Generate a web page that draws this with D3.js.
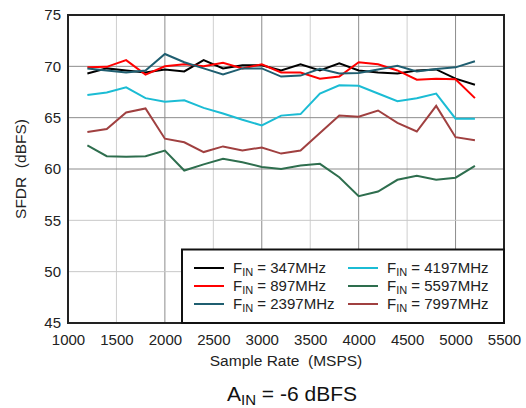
<!DOCTYPE html>
<html><head><meta charset="utf-8">
<script src="https://cdn.jsdelivr.net/npm/d3@7"></script>
<style>
html,body{margin:0;padding:0;background:#fff;}
svg{display:block;font-family:"Liberation Sans",Arial,sans-serif;}
</style></head>
<body><svg id="c" width="526" height="408"></svg>
<script>
const sampleRates = [1200,1400,1600,1800,2000,2200,2400,2600,2800,3000,3200,3400,3600,3800,4000,4200,4400,4600,4800,5000,5200];
const f347  = [69.3,69.8,69.6,69.4,69.7,69.5,70.6,69.8,70.1,70.1,69.6,70.2,69.6,70.3,69.6,69.4,69.3,69.6,69.7,68.8,68.2];
const f897  = [69.9,69.95,70.6,69.2,70.0,70.2,70.0,70.35,69.8,70.2,69.4,69.4,68.8,69.0,70.4,70.2,69.6,68.7,68.8,68.75,66.9];
const f2397 = [69.8,69.6,69.4,69.6,71.2,70.4,69.8,69.2,69.8,69.8,69.0,69.1,69.75,69.3,69.35,69.7,70.05,69.5,69.75,69.9,70.5];
const f4197 = [67.2,67.45,67.95,66.9,66.55,66.7,65.95,65.4,64.8,64.25,65.2,65.35,67.35,68.15,68.1,67.35,66.6,66.9,67.35,64.9,64.9];
const f5597 = [62.3,61.25,61.2,61.25,61.8,59.85,60.45,61.0,60.65,60.2,60.0,60.35,60.5,59.2,57.35,57.8,58.95,59.35,58.95,59.15,60.3];
const f7997 = [63.6,63.9,65.5,65.9,62.95,62.6,61.65,62.2,61.8,62.1,61.5,61.8,63.5,65.2,65.1,65.7,64.5,63.65,66.15,63.1,62.8];
const seriesNames = ["347MHz","897MHz","2397MHz","4197MHz","5597MHz","7997MHz"];
const seriesValues = [f347,f897,f2397,f4197,f5597,f7997];
const seriesColors = ["#000000","#ff0000","#1f5e70","#1bbcd4","#2e6e4e","#a04040"];
const xTicks = [1000,1500,2000,2500,3000,3500,4000,4500,5000,5500];
const yTicks = [45,50,55,60,65,70,75];

const svg = d3.select("#c");
const L=68, R=504, T=15, B=323;
const x = d3.scaleLinear().domain([1000,5500]).range([L,R]);
const y = d3.scaleLinear().domain([45,75]).range([B,T]);
const textColor="#222";

// grid
const g = svg.append("g");
xTicks.slice(1,-1).forEach(v=>{
  g.append("line").attr("x1",x(v)).attr("x2",x(v)).attr("y1",T).attr("y2",B)
   .attr("stroke", v%1000===0 ? "#8c8c8c" : "#cfcfcf").attr("stroke-width",1);
});
yTicks.slice(1,-1).forEach(v=>{
  g.append("line").attr("x1",L).attr("x2",R).attr("y1",y(v)).attr("y2",y(v))
   .attr("stroke", v>=60 ? "#8c8c8c" : "#c8c8c8").attr("stroke-width",1);
});

// axes via d3
const xAxis = svg.append("g").attr("transform",`translate(0,${B})`)
  .call(d3.axisBottom(x).tickValues(xTicks).tickSize(0).tickPadding(11).tickFormat(d3.format("d")));
xAxis.select(".domain").remove();
xAxis.selectAll("text").attr("font-size",15).attr("fill",textColor).attr("font-family","Liberation Sans, Arial, sans-serif");
const yAxis = svg.append("g").attr("transform",`translate(${L},0)`)
  .call(d3.axisLeft(y).tickValues(yTicks).tickSize(0).tickPadding(7).tickFormat(d3.format("d")));
yAxis.select(".domain").remove();
yAxis.selectAll("text").attr("font-size",15).attr("fill",textColor).attr("font-family","Liberation Sans, Arial, sans-serif");

// lines
const line = d3.line().x((d,i)=>x(sampleRates[i])).y(d=>y(d));
seriesValues.forEach((vals,k)=>{
  svg.append("path").datum(vals).attr("d",line).attr("fill","none")
    .attr("stroke",seriesColors[k]).attr("stroke-width",2).attr("stroke-linejoin","miter");
});

// frame
svg.append("rect").attr("x",L).attr("y",T).attr("width",R-L).attr("height",B-T)
  .attr("fill","none").attr("stroke","#222").attr("stroke-width",2);

// legend
const lg = svg.append("g");
lg.append("rect").attr("x",182).attr("y",249.5).attr("width",R-182).attr("height",B-249.5)
  .attr("fill","#fff").attr("stroke","#111").attr("stroke-width",2);
const cols=[{lx:194,tx:233},{lx:348,tx:387}];
const rows=[268,286,304];
seriesNames.forEach((n,k)=>{
  const c=cols[Math.floor(k/3)], r=rows[k%3];
  lg.append("line").attr("x1",c.lx).attr("x2",c.lx+30).attr("y1",r).attr("y2",r)
    .attr("stroke",seriesColors[k]).attr("stroke-width",2);
  const t=lg.append("text").attr("x",c.tx).attr("y",r+5).attr("font-size",15).attr("fill",textColor);
  t.append("tspan").text("F");
  t.append("tspan").attr("font-size",11).attr("dy",3).text("IN");
  t.append("tspan").attr("dy",-3).text(" = "+n);
});

// axis titles
svg.append("text").attr("x",(L+R)/2).attr("y",366).attr("text-anchor","middle")
  .attr("font-size",15.5).attr("fill",textColor).text("Sample Rate  (MSPS)").attr("xml:space","preserve");
svg.append("text").attr("transform",`translate(26,${(T+B)/2}) rotate(-90)`).attr("text-anchor","middle")
  .attr("font-size",15.5).attr("fill",textColor).attr("xml:space","preserve").text("SFDR  (dBFS)");
const at = svg.append("text").attr("x",292).attr("y",401).attr("text-anchor","middle")
  .attr("font-size",21).attr("fill","#111");
at.append("tspan").text("A");
at.append("tspan").attr("font-size",15).attr("dy",4).text("IN");
at.append("tspan").attr("dy",-4).text(" = -6 dBFS");
</script></body></html>
